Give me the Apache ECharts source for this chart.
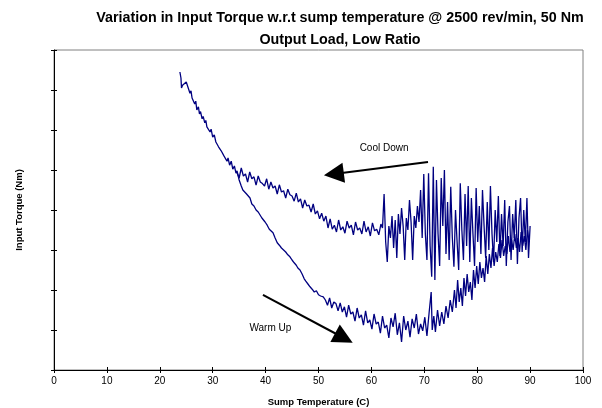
<!DOCTYPE html>
<html>
<head>
<meta charset="utf-8">
<script src="https://cdn.jsdelivr.net/npm/echarts@6/dist/echarts.min.js"></script>
<style>
html,body{margin:0;padding:0;background:#fff;}
#chart{width:602px;height:408px;}
</style>
</head>
<body>
<div id="chart"></div>
<script>
// Warm Up trace (temperature C, input torque - unlabelled axis units)
var warmTemp = [23.8,24.0,24.1,24.3,24.6,25.0,25.3,25.5,25.7,25.9,26.1,26.3,26.6,26.8,27.0,27.3,27.5,27.7,28.0,28.2,28.5,28.7,28.9,29.2,29.5,29.7,30.0,30.3,30.6,30.8,31.1,31.4,31.6,31.9,32.1,32.4,32.7,32.9,33.2,33.5,33.8,34.1,34.4,34.6,
35.0,35.4,35.7,36.0,36.4,36.7,37.05,37.4,37.8,38.2,38.6,38.9,39.3,39.6,39.9,40.3,40.7,41.0,41.4,41.8,42.2,42.6,43.0,43.4,43.8,44.2,44.6,45.0,45.4,45.8,46.1,46.5,46.9,47.3,47.6,48.0,48.4,48.8,49.2,49.6,50.0,50.4,50.9,
51.3,51.7,52.1,52.5,52.9,53.3,53.7,54.1,54.5,54.9,55.3,55.7,56.1,56.5,56.9,57.3,57.7,58.1,58.5,58.9,59.3,59.7,60.1,60.5,60.9,61.3,61.7,62.1,62.5,62.9,63.3,63.7,64.1,64.5,64.9,65.3,65.7,66.1,66.5,66.9,67.3,67.7,68.1,68.5,68.9,69.3,69.7,70.1,70.5,70.9,
71.3,71.5,71.8,72.1,72.5,72.9,73.3,73.7,74.1,74.5,74.9,75.3,75.7,76.0,76.3,76.6,76.9,77.2,77.5,77.8,78.1,78.4,78.7,79.0,79.3,79.6,79.9,80.2,80.5,80.8,81.1,81.4,81.7,82.0,82.3,82.6,82.9,83.2,83.5,83.8,84.1,84.4,84.7,85.0,85.3,85.6,85.9,86.2,86.5,86.8,87.1,87.4,87.7,88.0,88.3,88.6,88.9,89.2,89.5,89.8];
var warmTorque = [7.45,7.30,7.05,7.12,7.08,7.20,7.25,7.00,6.92,6.98,6.80,6.85,6.65,6.72,6.50,6.58,6.40,6.46,6.28,6.34,6.18,6.24,6.08,6.12,5.95,6.02,5.82,5.88,5.70,5.75,5.58,5.60,5.48,5.50,5.36,5.40,5.22,5.30,5.12,5.22,5.02,5.10,4.92,4.98,
4.75,4.60,4.50,4.52,4.40,4.35,4.30,4.15,4.10,4.00,3.95,3.93,3.80,3.75,3.70,3.62,3.52,3.48,3.43,3.30,3.18,3.12,3.05,3.00,2.95,2.88,2.83,2.75,2.68,2.62,2.55,2.50,2.40,2.28,2.22,2.15,2.08,2.02,1.95,1.98,1.88,1.85,1.83,
1.75,1.62,1.80,1.55,1.70,1.66,1.48,1.68,1.45,1.58,1.32,1.62,1.40,1.45,1.22,1.55,1.30,1.38,1.12,1.48,1.18,1.25,1.02,1.40,1.15,1.20,0.92,1.35,1.05,1.12,0.80,1.30,1.08,1.42,0.88,1.18,0.70,1.35,1.00,1.22,0.82,1.28,1.05,1.40,0.90,1.15,0.98,1.32,0.85,1.42,
1.95,1.00,1.35,0.95,1.50,1.10,1.45,1.15,1.60,1.30,1.75,1.45,2.00,1.55,2.25,1.70,2.05,1.60,2.30,1.85,2.40,1.95,2.20,1.75,2.50,2.05,2.60,2.15,2.70,2.30,2.55,2.20,2.85,2.40,2.90,2.55,3.05,2.60,2.95,2.70,3.15,2.80,3.25,2.85,3.10,2.90,3.35,2.95,3.25,3.00,3.40,3.05,3.30,2.95,3.45,3.10,3.35,3.00,3.50,3.20];

// Cool Down trace
var coolTemp = [34.6,35.0,35.4,35.8,36.2,36.6,37.0,37.4,37.8,38.2,38.6,39.0,39.4,39.8,40.2,40.6,41.0,41.4,41.8,42.2,42.6,43.0,43.4,43.8,44.2,44.6,45.0,45.4,45.8,46.2,46.6,47.0,47.4,47.8,48.2,48.6,49.0,49.4,49.8,50.2,50.6,51.0,51.4,51.8,52.2,52.6,53.0,53.4,53.8,54.2,54.6,55.0,55.4,55.8,56.2,56.6,57.0,57.4,57.8,58.2,58.6,59.0,59.4,59.8,60.2,60.6,61.0,61.4,61.8,
62.1,62.4,62.7,63.0,63.3,63.6,63.9,64.2,64.5,64.8,65.1,65.4,65.7,66.0,66.3,66.6,66.9,67.2,67.5,67.8,68.1,68.4,68.7,69.0,69.3,69.6,69.9,70.2,70.5,70.8,71.1,71.4,71.7,72.0,72.3,72.6,72.9,73.2,73.5,73.8,74.1,74.4,74.7,75.0,75.3,75.6,75.9,76.2,76.5,76.8,77.1,77.4,77.7,78.0,78.3,78.6,78.9,79.2,79.5,79.8,
80.1,80.4,80.7,81.0,81.3,81.6,81.9,82.2,82.5,82.8,83.1,83.4,83.7,84.0,84.3,84.6,84.9,85.2,85.5,85.8,86.1,86.4,86.7,87.0,87.3,87.6,87.9,88.2,88.5,88.8,89.1,89.4,89.7,90.0];
var coolTorque = [4.93,4.80,5.05,4.85,4.90,4.70,4.95,4.78,4.83,4.62,4.85,4.70,4.66,4.60,4.78,4.52,4.70,4.55,4.60,4.40,4.63,4.45,4.48,4.30,4.52,4.38,4.35,4.22,4.42,4.20,4.28,4.05,4.25,4.10,4.12,3.95,4.15,3.90,3.98,3.78,3.92,3.72,3.85,3.55,3.78,3.52,3.62,3.45,3.75,3.50,3.58,3.42,3.72,3.55,3.62,3.38,3.70,3.50,3.55,3.40,3.72,3.45,3.58,3.35,3.68,3.48,3.52,3.38,3.65,
3.55,4.40,3.20,2.70,3.60,3.30,3.85,3.05,3.75,2.80,3.90,3.40,4.05,3.60,2.75,3.80,3.50,4.25,3.70,2.75,3.85,3.55,4.10,3.70,4.50,3.30,4.90,3.40,2.75,4.92,3.10,2.33,5.08,2.25,4.75,3.40,2.60,4.80,3.60,5.00,2.90,4.20,2.75,4.58,3.30,2.58,4.00,3.20,2.50,4.67,3.50,2.75,4.40,3.10,4.60,2.70,4.30,3.40,2.60,4.55,
3.20,4.10,2.90,4.50,3.60,2.80,4.20,3.00,4.60,3.40,2.70,4.00,3.20,4.35,2.85,3.90,3.10,4.25,2.60,3.70,4.10,2.75,3.90,3.30,4.25,2.65,3.80,4.30,2.95,4.00,3.20,4.30,2.80,3.60];

// Axis ticks
var xTicks = [0,10,20,30,40,50,60,70,80,90,100];

// Annotations (data coordinates)
var coolArrow = [[70.7,5.2],[52.9,4.9]];
var warmArrow = [[39.5,1.88],[54.8,0.8]];
var coolLabel = [62.4,5.55];
var warmLabel = [40.9,1.05];

function pairs(xs, ys){ var out=[]; for(var i=0;i<xs.length;i++){ out.push([xs[i], ys[i]]); } return out; }

var FONT = '"Liberation Sans", Arial, sans-serif';
var chart = echarts.init(document.getElementById('chart'), null, {renderer:'canvas'});
var option = {
  animation:false,
  backgroundColor:'#ffffff',
  title:{
    text:'Variation in Input Torque w.r.t sump temperature @ 2500 rev/min, 50 Nm\nOutput Load, Low Ratio',
    left:335, top:2, textAlign:'center',
    textStyle:{fontFamily:FONT, fontSize:14.3, fontWeight:'bold', color:'#000', lineHeight:22}
  },
  grid:{left:54, right:19, top:50, bottom:38, show:true, borderColor:'#808080', borderWidth:1, backgroundColor:'transparent', containLabel:false, outerBoundsMode:'none'},
  xAxis:[{
    type:'value', min:xTicks[0], max:xTicks[xTicks.length-1], interval:10,
    name:'Sump Temperature (C)', nameLocation:'middle', nameGap:27,
    nameTextStyle:{fontFamily:FONT, fontSize:9.5, fontWeight:'bold', color:'#000'},
    axisLine:{show:true, onZero:false, lineStyle:{color:'#000', width:1}},
    axisTick:{show:true, inside:false, length:3, lineStyle:{color:'#000'}},
    axisLabel:{fontFamily:FONT, fontSize:10, color:'#000', margin:6},
    splitLine:{show:false}
  },{
    type:'value', min:xTicks[0], max:xTicks[xTicks.length-1], interval:10, position:'bottom', offset:0,
    axisLine:{show:false}, axisTick:{show:true, inside:true, length:3, lineStyle:{color:'#000'}},
    axisLabel:{show:false}, splitLine:{show:false}
  }],
  yAxis:[{
    type:'value', min:0, max:8, interval:1,
    name:'Input Torque (Nm)', nameLocation:'middle', nameGap:30, nameRotate:90,
    nameTextStyle:{fontFamily:FONT, fontSize:9.5, fontWeight:'bold', color:'#000'},
    axisLine:{show:true, onZero:false, lineStyle:{color:'#000', width:1}},
    axisTick:{show:true, inside:false, length:3, lineStyle:{color:'#000'}},
    axisLabel:{show:false}, splitLine:{show:false}
  },{
    type:'value', min:0, max:8, interval:1, position:'left', offset:0,
    axisLine:{show:false}, axisTick:{show:true, inside:true, length:3, lineStyle:{color:'#000'}},
    axisLabel:{show:false}, splitLine:{show:false}
  }],
  series:[{
    name:'Warm Up', type:'line', xAxisIndex:0, yAxisIndex:0,
    data:pairs(warmTemp, warmTorque), showSymbol:false, symbol:'none',
    lineStyle:{color:'#000080', width:1.3}, z:3,
    markLine:{
      silent:true, symbol:['none','triangle'], symbolSize:[20,20], precision:3,
      label:{show:false}, lineStyle:{color:'#000', width:2, type:'solid'},
      data:[[{coord:warmArrow[0]},{coord:warmArrow[1]}]]
    },
    markPoint:{
      silent:true, symbol:'circle', symbolSize:1, itemStyle:{color:'rgba(0,0,0,0)'},
      label:{show:true, position:'inside', fontFamily:FONT, fontSize:10, color:'#000', formatter:'{b}'},
      data:[{name:'Warm Up', coord:warmLabel}]
    }
  },{
    name:'Cool Down', type:'line', xAxisIndex:0, yAxisIndex:0,
    data:pairs(coolTemp, coolTorque), showSymbol:false, symbol:'none',
    lineStyle:{color:'#000080', width:1.3}, z:3,
    markLine:{
      silent:true, symbol:['none','triangle'], symbolSize:[20,20], precision:3,
      label:{show:false}, lineStyle:{color:'#000', width:2, type:'solid'},
      data:[[{coord:coolArrow[0]},{coord:coolArrow[1]}]]
    },
    markPoint:{
      silent:true, symbol:'circle', symbolSize:1, itemStyle:{color:'rgba(0,0,0,0)'},
      label:{show:true, position:'inside', fontFamily:FONT, fontSize:10, color:'#000', formatter:'{b}'},
      data:[{name:'Cool Down', coord:coolLabel}]
    }
  }]
};
chart.setOption(option);
</script>
</body>
</html>
